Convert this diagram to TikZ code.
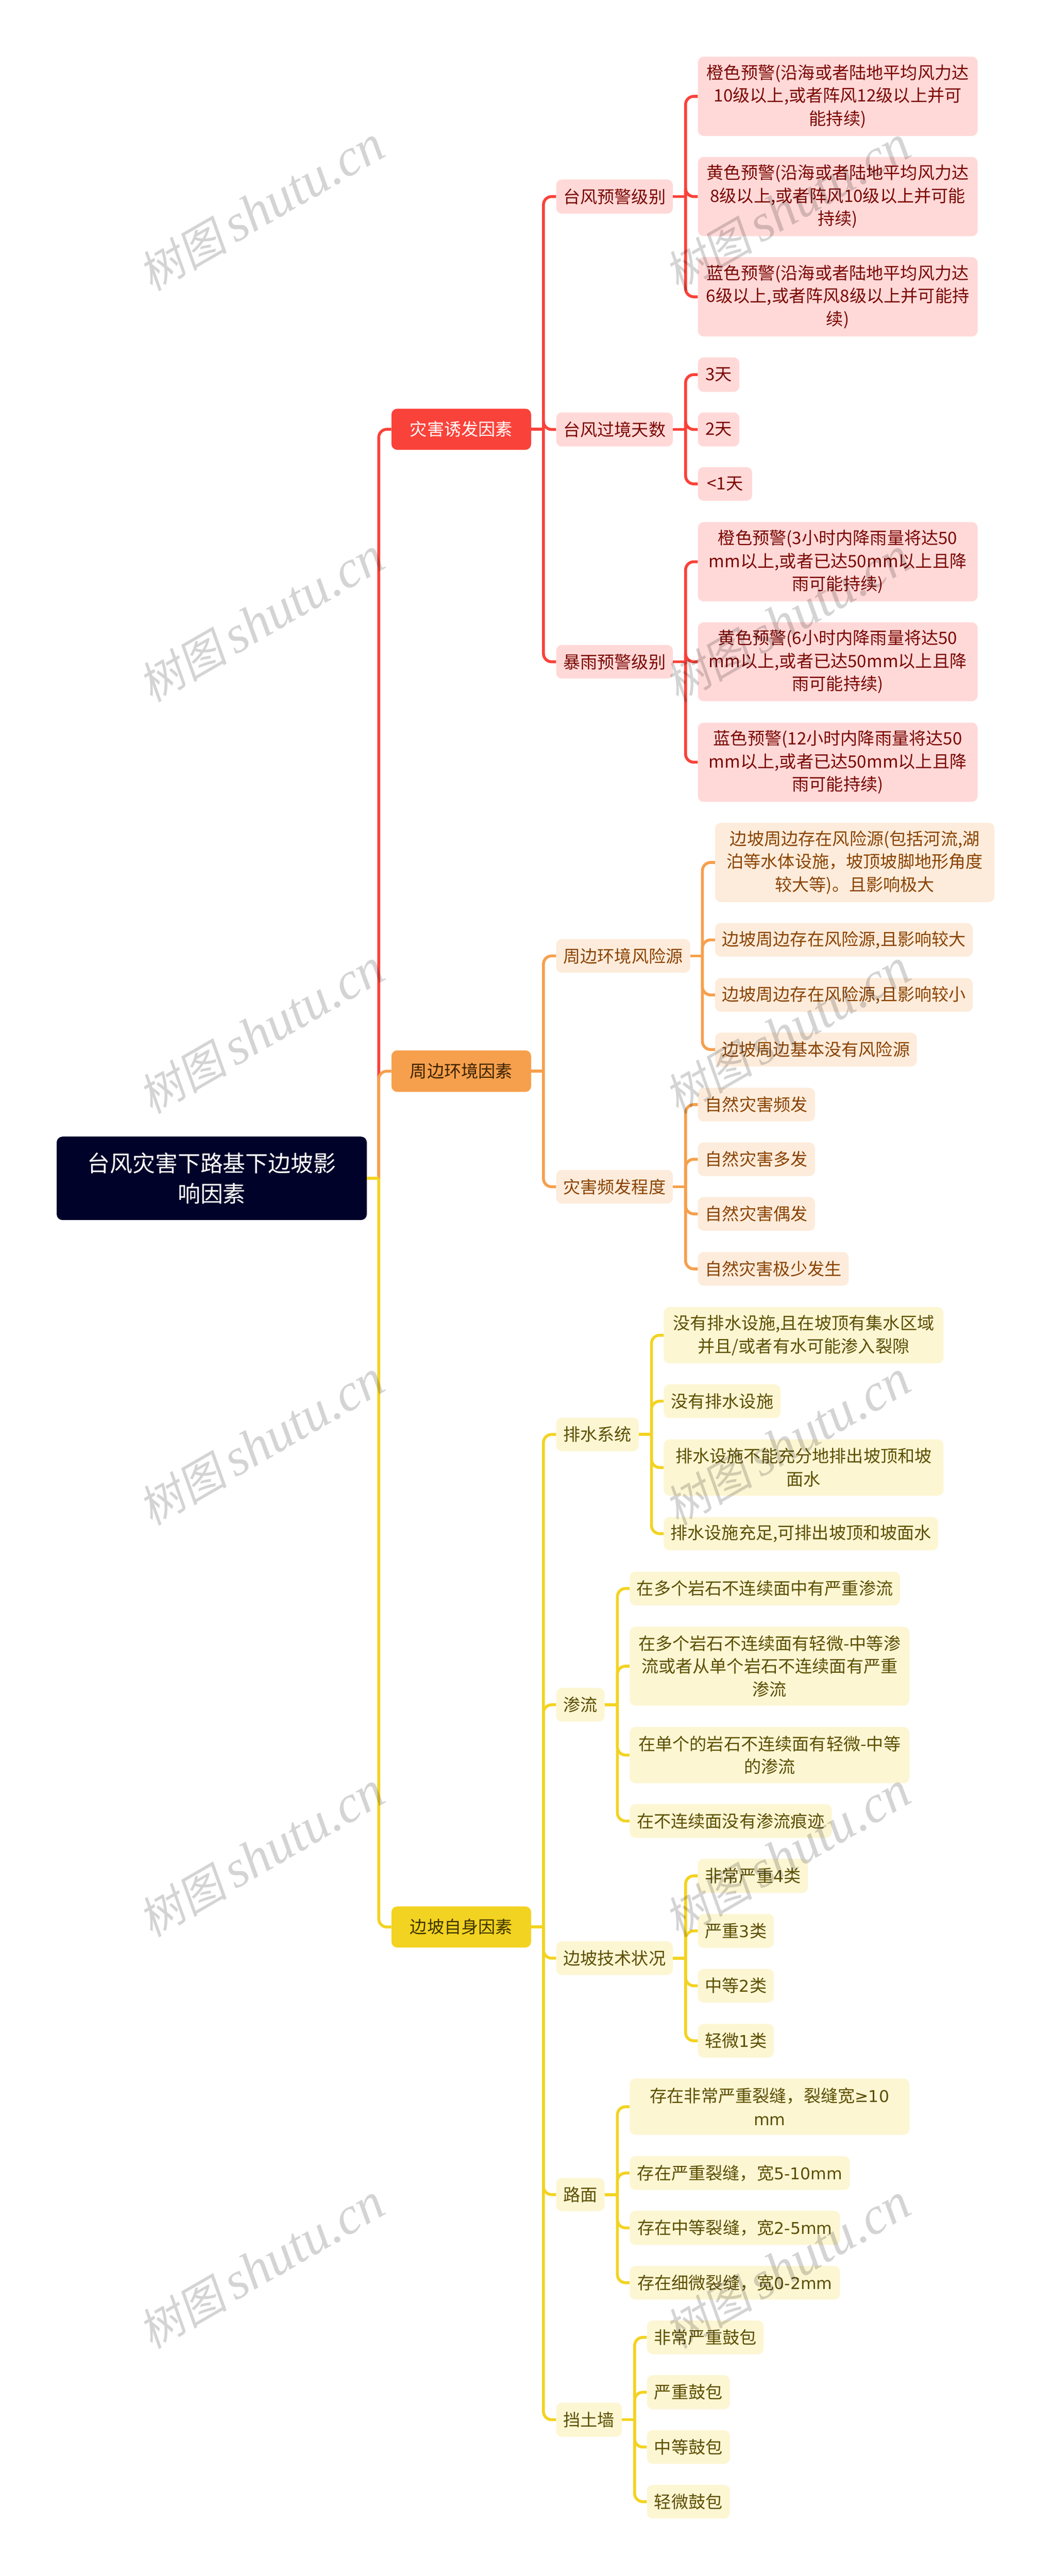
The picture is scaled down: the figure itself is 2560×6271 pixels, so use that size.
\documentclass[tikz,border=0pt]{standalone}
\usepackage{fontspec}
\setmainfont{Noto Sans CJK SC}
\newfontfamily\wmcjk[FakeSlant=0.18]{Noto Sans CJK SC}
\newfontfamily\wmlat{Liberation Serif}[ItalicFont=* Italic]
\newfontfamily\widelat[Scale=0.95]{DejaVu Sans}
\newcommand\lat[1]{{\widelat #1}}
\definecolor{HTML3D2200}{HTML}{3D2200}
\definecolor{HTML3D3400}{HTML}{3D3400}
\definecolor{colorpink}{HTML}{FFD9D8}
\definecolor{colordarkred}{HTML}{7A0500}
\definecolor{colorpeach}{HTML}{FDECDB}
\definecolor{colorbrown}{HTML}{8A4300}
\definecolor{colorcream}{HTML}{FDF6D3}
\definecolor{colorolive}{HTML}{5C4F00}
\definecolor{cred}{HTML}{F9423A}
\definecolor{corange}{HTML}{F6A04D}
\definecolor{cyellow}{HTML}{F3D321}
\definecolor{croot}{HTML}{000229}
\tikzset{
  box/.style={rectangle,rounded corners=7pt,inner sep=0pt,align=center,font=\fontsize{20.8}{28}\selectfont},
  rootbox/.style={box,fill=croot,text=white,font=\fontsize{27.5}{37}\selectfont},
  lonered/.style={box,fill=cred,text=white},
  loneorange/.style={box,fill=corange,text=HTML3D2200},
  loneyellow/.style={box,fill=cyellow,text=HTML3D3400},
  subred/.style={box,fill=colorpink,text=colordarkred},
  suborange/.style={box,fill=colorpeach,text=colorbrown},
  subyellow/.style={box,fill=colorcream,text=colorolive},
  link/.style={line width=3.5pt,line cap=butt,line join=round},
  wmark/.style={text=black,text opacity=0.17,inner sep=0pt,rotate=30}
}
% name style left top right bottom text
\newcommand\nd[7]{\node[#2,minimum width={(#5-#3)*0.5pt},minimum height={(#6-#4)*0.5pt}] (#1) at ({(#3+#5)/2},{(#4+#6)/2}) {#7};}
% colour parent child xvertical
\newcommand\branch[4]{%
  \draw[link,#1] (#2.east) -- (#4,0 |- #2.east);
  \draw[link,#1,rounded corners=10pt] (#4,0 |- #2.east) -- (#4,0 |- #3.west) -- (#3.west);
}
\newcommand\wmtext{\fontsize{54}{60}\selectfont\wmcjk 树图\hspace{0.18em}\fontsize{64}{60}\selectfont\wmlat\itshape shutu.cn}
\begin{document}
\begin{tikzpicture}[x=0.5pt,y=-0.5pt]
\useasboundingbox[fill=white] (0,0) rectangle (2560,6271);
\nd{root}{rootbox}{138}{2767}{893}{2970}{台风灾害下路基下边坡影\\响因素}
% level 1
\nd{A}{lonered}{953}{995}{1293}{1095}{灾害诱发因素}
\nd{B}{loneorange}{953}{2557}{1293}{2658}{周边环境因素}
\nd{C}{loneyellow}{953}{4641}{1293}{4741}{边坡自身因素}
% A
\nd{A1}{subred}{1354}{437}{1638}{520}{台风预警级别}
\nd{A2}{subred}{1354}{1004}{1638}{1087}{台风过境天数}
\nd{A3}{subred}{1354}{1570}{1638}{1652}{暴雨预警级别}
\nd{A11}{subred}{1699}{138}{2380}{331}{橙色预警(沿海或者陆地平均风力达\\10级以上,或者阵风12级以上并可\\能持续)}
\nd{A12}{subred}{1699}{382}{2380}{575}{黄色预警(沿海或者陆地平均风力达\\8级以上,或者阵风10级以上并可能\\持续)}
\nd{A13}{subred}{1699}{626}{2380}{819}{蓝色预警(沿海或者陆地平均风力达\\6级以上,或者阵风8级以上并可能持\\续)}
\nd{A21}{subred}{1699}{870}{1800}{954}{3天}
\nd{A22}{subred}{1699}{1004}{1800}{1087}{2天}
\nd{A23}{subred}{1699}{1137}{1831}{1219}{<1天}
\nd{A31}{subred}{1699}{1271}{2380}{1464}{橙色预警(3小时内降雨量将达50\\mm以上,或者已达50mm以上且降\\雨可能持续)}
\nd{A32}{subred}{1699}{1515}{2380}{1707}{黄色预警(6小时内降雨量将达50\\mm以上,或者已达50mm以上且降\\雨可能持续)}
\nd{A33}{subred}{1699}{1759}{2380}{1952}{蓝色预警(12小时内降雨量将达50\\mm以上,或者已达50mm以上且降\\雨可能持续)}
% B
\nd{B1}{suborange}{1354}{2286}{1680}{2368}{周边环境风险源}
\nd{B2}{suborange}{1354}{2848}{1638}{2930}{灾害频发程度}
\nd{B11}{suborange}{1741}{2003}{2421}{2196}{边坡周边存在风险源(包括河流,湖\\泊等水体设施，坡顶坡脚地形角度\\较大等)。且影响极大}
\nd{B12}{suborange}{1741}{2247}{2368}{2329}{边坡周边存在风险源,且影响较大}
\nd{B13}{suborange}{1741}{2381}{2368}{2463}{边坡周边存在风险源,且影响较小}
\nd{B14}{suborange}{1741}{2514}{2232}{2596}{边坡周边基本没有风险源}
\nd{B21}{suborange}{1699}{2648}{1984}{2730}{自然灾害频发}
\nd{B22}{suborange}{1699}{2781}{1984}{2863}{自然灾害多发}
\nd{B23}{suborange}{1699}{2914}{1984}{2996}{自然灾害偶发}
\nd{B24}{suborange}{1699}{3048}{2066}{3130}{自然灾害极少发生}
% C
\nd{C1}{subyellow}{1354}{3451}{1555}{3533}{排水系统}
\nd{C2}{subyellow}{1354}{4109}{1472}{4191}{渗流}
\nd{C3}{subyellow}{1354}{4726}{1638}{4808}{边坡技术状况}
\nd{C4}{subyellow}{1354}{5302}{1472}{5383}{路面}
\nd{C5}{subyellow}{1354}{5849}{1514}{5932}{挡土墙}
\nd{C11}{subyellow}{1616}{3182}{2297}{3319}{没有排水设施,且在坡顶有集水区域\\并且/或者有水可能渗入裂隙}
\nd{C12}{subyellow}{1616}{3370}{1900}{3452}{没有排水设施}
\nd{C13}{subyellow}{1616}{3504}{2297}{3641}{排水设施不能充分地排出坡顶和坡\\面水}
\nd{C14}{subyellow}{1616}{3693}{2284}{3774}{排水设施充足,可排出坡顶和坡面水}
\nd{C21}{subyellow}{1533}{3826}{2191}{3908}{在多个岩石不连续面中有严重渗流}
\nd{C22}{subyellow}{1533}{3960}{2214}{4152}{在多个岩石不连续面有轻微-中等渗\\流或者从单个岩石不连续面有严重\\渗流}
\nd{C23}{subyellow}{1533}{4204}{2214}{4341}{在单个的岩石不连续面有轻微-中等\\的渗流}
\nd{C24}{subyellow}{1533}{4392}{2025}{4474}{在不连续面没有渗流痕迹}
\nd{C31}{subyellow}{1699}{4525}{1967}{4608}{非常严重\lat{4}类}
\nd{C32}{subyellow}{1699}{4659}{1884}{4742}{严重\lat{3}类}
\nd{C33}{subyellow}{1699}{4793}{1884}{4875}{中等\lat{2}类}
\nd{C34}{subyellow}{1699}{4927}{1884}{5009}{轻微\lat{1}类}
\nd{C41}{subyellow}{1533}{5060}{2214}{5197}{存在非常严重裂缝，裂缝宽\lat{≥10}\\\lat{mm}}
\nd{C42}{subyellow}{1533}{5249}{2069}{5331}{存在严重裂缝，宽\lat{5-10mm}}
\nd{C43}{subyellow}{1533}{5382}{2045}{5465}{存在中等裂缝，宽\lat{2-5mm}}
\nd{C44}{subyellow}{1533}{5516}{2045}{5598}{存在细微裂缝，宽\lat{0-2mm}}
\nd{C51}{subyellow}{1575}{5649}{1859}{5731}{非常严重鼓包}
\nd{C52}{subyellow}{1575}{5782}{1777}{5865}{严重鼓包}
\nd{C53}{subyellow}{1575}{5916}{1777}{5998}{中等鼓包}
\nd{C54}{subyellow}{1575}{6049}{1777}{6131}{轻微鼓包}
% connectors
\branch{cred}{root}{A}{922}
\branch{corange}{root}{B}{922}
\branch{cyellow}{root}{C}{922}
\foreach \c in {A1,A2,A3}{\branch{cred}{A}{\c}{1323}}
\foreach \c in {A11,A12,A13}{\branch{cred}{A1}{\c}{1669}}
\foreach \c in {A21,A22,A23}{\branch{cred}{A2}{\c}{1669}}
\foreach \c in {A31,A32,A33}{\branch{cred}{A3}{\c}{1669}}
\foreach \c in {B1,B2}{\branch{corange}{B}{\c}{1323}}
\foreach \c in {B11,B12,B13,B14}{\branch{corange}{B1}{\c}{1710}}
\foreach \c in {B21,B22,B23,B24}{\branch{corange}{B2}{\c}{1669}}
\foreach \c in {C1,C2,C3,C4,C5}{\branch{cyellow}{C}{\c}{1323}}
\foreach \c in {C11,C12,C13,C14}{\branch{cyellow}{C1}{\c}{1586}}
\foreach \c in {C21,C22,C23,C24}{\branch{cyellow}{C2}{\c}{1503}}
\foreach \c in {C31,C32,C33,C34}{\branch{cyellow}{C3}{\c}{1669}}
\foreach \c in {C41,C42,C43,C44}{\branch{cyellow}{C4}{\c}{1503}}
\foreach \c in {C51,C52,C53,C54}{\branch{cyellow}{C5}{\c}{1545}}
% watermark
\foreach \wy in {508,1510,2512,3514,4516,5518}{
  \node[wmark] (wl\wy) at (637,\wy) {\wmtext};
  \node[wmark] (wr\wy) at (1917,\wy) {\wmtext};
}
\end{tikzpicture}
\end{document}
